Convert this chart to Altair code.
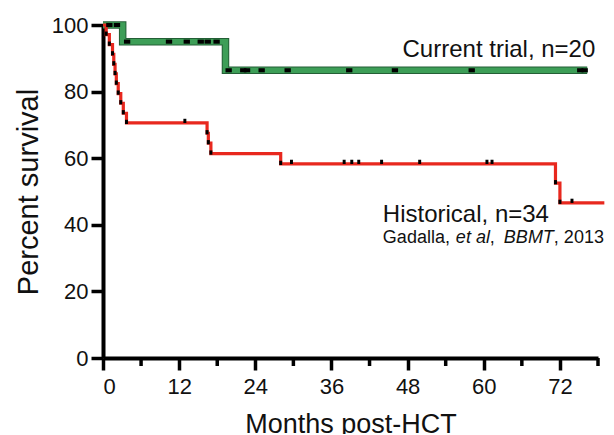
import altair as alt
import pandas as pd

FONT = "Liberation Sans"

# ---- Current trial, n=20 (Kaplan-Meier steps) ----
cur_time = [0, 3.1, 19.3, 76.3]
cur_surv = [100, 95.0, 86.4, 86.4]
cur_cens_time = [1.0, 2.2, 3.8, 10.4, 13.2, 15.4, 16.5, 17.9,
                 19.8, 22.1, 22.7, 25.0, 29.1, 38.8, 46.0, 58.1, 75.2, 75.9]
cur_cens_surv = [100, 100, 95, 95, 95, 95, 95, 95,
                 86.4, 86.4, 86.4, 86.4, 86.4, 86.4, 86.4, 86.4, 86.4, 86.4]

# ---- Historical, n=34 ----
hist_time = [0, 0.5, 1.0, 1.5, 1.7, 1.9, 2.1, 2.4, 2.8, 3.2, 3.7,
             16.4, 16.6, 17.0, 28.0, 71.3, 72.0, 79.0]
hist_surv = [100, 97.1, 94.1, 91.2, 88.2, 85.3, 82.4, 79.4, 76.5, 73.5, 70.6,
             67.5, 64.5, 61.4, 58.3, 52.5, 46.6, 46.6]
hist_cens_time = [12.9, 29.7, 38.0, 39.2, 40.3, 43.9, 49.9, 60.5, 61.3, 73.9]
hist_cens_surv = [70.6, 58.3, 58.3, 58.3, 58.3, 58.3, 58.3, 58.3, 58.3, 46.6]

# ---- axes ----
x_major = [0, 12, 24, 36, 48, 60, 72]
x_minor = [6, 18, 30, 42, 54, 66, 78]
y_ticks = [0, 20, 40, 60, 80, 100]

# ---- annotations ----
ann_text = ["Current trial, n=20", "Historical, n=34"]
ann_t = [47.2, 44.1]
ann_s = [90.4, 40.8]
cite_parts = ["Gadalla,", "et al", ",", "BBMT", ", 2013"]
cite_italic = [False, True, False, True, False]
cite_dx = [0, 73, 107, 121, 171]
cite_t = 44.1
cite_s = 34.4

W, H = 495, 333

xs = alt.Scale(domain=[0, 78], nice=False, zero=True)
ys = alt.Scale(domain=[0, 100], nice=False)
x_axis = alt.Axis(values=x_major, format="d", labelPadding=6, titlePadding=14,
                  titleFontSize=27)
y_axis = alt.Axis(values=y_ticks, format="d", labelPadding=3, titlePadding=8,
                  titleFontSize=29)


def X():
    return alt.X("t:Q", scale=xs, axis=x_axis, title="Months post-HCT")


def Y():
    return alt.Y("s:Q", scale=ys, axis=y_axis, title="Percent survival")


cur_df = pd.DataFrame({"t": cur_time, "s": cur_surv})
cur_c = pd.DataFrame({"t": cur_cens_time, "s": cur_cens_surv})
hist_df = pd.DataFrame({"t": hist_time, "s": hist_surv})
hist_c = pd.DataFrame({"t": hist_cens_time, "s": hist_cens_surv})
hist_d = pd.DataFrame({"t": hist_time[1:-1], "s": hist_surv[1:-1]})
minor_df = pd.DataFrame({"t": x_minor})
ann_df = pd.DataFrame({"t": ann_t, "s": ann_s, "label": ann_text})

green_outline = alt.Chart(cur_df).mark_line(
    interpolate="step-after", color="#245f36", strokeWidth=7.5, strokeCap="butt"
).encode(x=X(), y=Y())
green = alt.Chart(cur_df).mark_line(
    interpolate="step-after", color="#3d9e57", strokeWidth=5.5, strokeCap="butt"
).encode(x=X(), y=Y())
red = alt.Chart(hist_df).mark_line(
    interpolate="step-after", color="#e8281e", strokeWidth=3.2, strokeCap="butt"
).encode(x=X(), y=Y())

green_mark_shape = "M-1,-0.65L1,-0.65L1,0.65L-1,0.65Z"
red_mark_shape = "M-0.7,-1L0.7,-1L0.7,1L-0.7,1Z"

green_marks = alt.Chart(cur_c).mark_point(
    shape=green_mark_shape, size=40, filled=True, color="black", opacity=1
).encode(x=X(), y=Y())
red_marks = alt.Chart(hist_c).mark_point(
    shape=red_mark_shape, size=18, filled=True, color="black", opacity=1, yOffset=-2
).encode(x=X(), y=Y())
red_death_marks = alt.Chart(hist_d).mark_point(
    shape=red_mark_shape, size=18, filled=True, color="black", opacity=1, yOffset=-1
).encode(x=X(), y=Y())

minor_ticks = alt.Chart(minor_df).mark_rule(color="black", strokeWidth=3.5).encode(
    x=X(), y=alt.value(H), y2=alt.value(H + 8)
)

ann = alt.Chart(ann_df).mark_text(
    align="left", baseline="alphabetic", font=FONT, fontSize=24, color="#111111"
).encode(x=X(), y=Y(), text="label:N")

cite_layers = []
for part, ital, dx in zip(cite_parts, cite_italic, cite_dx):
    cdf = pd.DataFrame({"t": [cite_t], "s": [cite_s], "label": [part]})
    cite_layers.append(
        alt.Chart(cdf).mark_text(
            align="left", baseline="alphabetic", font=FONT, fontSize=18,
            fontStyle="italic" if ital else "normal", dx=dx, color="#111111"
        ).encode(x=X(), y=Y(), text="label:N")
    )

chart = alt.layer(
    minor_ticks, green_outline, green, red, green_marks, red_death_marks, red_marks,
    ann, *cite_layers
).properties(
    width=W, height=H,
    autosize=alt.AutoSizeParams(type="none"),
    padding={"left": 95, "top": 17, "right": 8, "bottom": 76},
).configure_view(strokeWidth=0).configure_axis(
    grid=False,
    domainColor="black", domainWidth=4,
    tickColor="black", tickWidth=3.5, tickSize=12,
    labelFont=FONT, labelFontSize=22, labelColor="#111111",
    titleFont=FONT, titleFontSize=26, titleFontWeight="normal", titleColor="#111111",
)

chart.save("out.html", embed_options={"renderer": "svg", "actions": False})
